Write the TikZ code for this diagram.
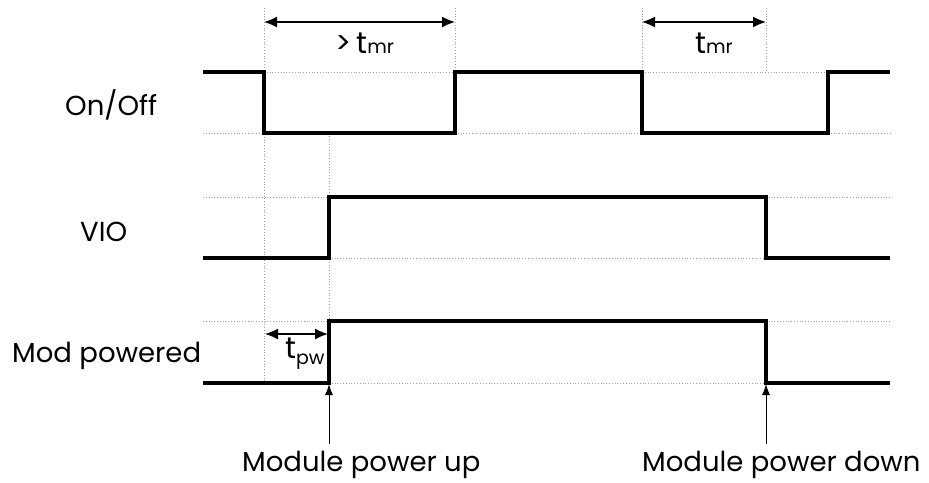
\documentclass[tikz,border=0pt]{standalone}
\usepackage{fontspec}
\setmainfont{Poppins}
\usetikzlibrary{arrows.meta}
\begin{document}
\begin{tikzpicture}[x=1pt,y=-1pt,
  sig/.style={line width=4pt,line join=miter,line cap=butt},
  guide/.style={draw=gray!75,line width=0.8pt,dotted},
  dim/.style={line width=1.4pt,{Latex[length=13pt,width=11pt]}-{Latex[length=13pt,width=11pt]}},
  upar/.style={line width=1pt,-{Latex[length=11pt,width=8pt]}},
  lab/.style={anchor=base west,inner sep=0pt,font=\fontsize{27.5}{30}\selectfont},
  tlab/.style={anchor=base west,inner sep=0pt,font=\fontsize{30}{32}\selectfont}]
\useasboundingbox[fill=white] (0,0) rectangle (929,482);

% guide lines (horizontal)
\draw[guide] (264,72) -- (455,72);
\draw[guide] (642,72) -- (828,72);
\draw[guide] (203,133) -- (264,133);
\draw[guide] (455,133) -- (642,133);
\draw[guide] (828,133) -- (890,133);
\draw[guide] (203,197) -- (329,197);
\draw[guide] (766,197) -- (890,197);
\draw[guide] (329,258) -- (766,258);
\draw[guide] (203,321) -- (329,321);
\draw[guide] (766,321) -- (890,321);
\draw[guide] (329,383) -- (766,383);
% guide lines (vertical)
\draw[guide] (264,8) -- (264,383);
\draw[guide] (455,8) -- (455,72);
\draw[guide] (642,8) -- (642,72);
\draw[guide] (766,8) -- (766,72);
\draw[guide] (329,133) -- (329,383);

% signals
\draw[sig] (203,72) -- (264,72) -- (264,133) -- (455,133) -- (455,72) -- (642,72) -- (642,133) -- (828,133) -- (828,72) -- (890,72);
\draw[sig] (203,258) -- (329,258) -- (329,197) -- (766,197) -- (766,258) -- (890,258);
\draw[sig] (203,383) -- (329,383) -- (329,321) -- (766,321) -- (766,383) -- (890,383);

% dimension arrows
\coordinate (a1) at (264,22); \coordinate (a2) at (455,22);
\coordinate (b1) at (642,22); \coordinate (b2) at (766,22);
\coordinate (c1) at (265,334); \coordinate (c2) at (328,334);
\draw[dim] (a1) -- (a2);
\draw[dim] (b1) -- (b2);
\draw[dim] (c1) -- (c2);

% event arrows
\coordinate (u1) at (329,444); \coordinate (u1t) at (329,384);
\coordinate (u2) at (766,444); \coordinate (u2t) at (766,384);
\draw[upar] (u1) -- (u1t);
\draw[upar] (u2) -- (u2t);

% labels
\node[lab] (onoff) at (65,115) {On/Off};
\node[lab] (vio) at (80,241) {VIO};
\node[lab] (modp) at (12,362) {Mod powered};
\node[lab] (mpu) at (242,471) {Module power up};
\node[lab] (mpd) at (642,471) {Module power down};
\node[tlab] (tmr1) at (335,53) {>\,t{\fontsize{19}{20}\selectfont mr}};
\node[tlab] (tmr2) at (695,53) {t{\fontsize{19}{20}\selectfont mr}};
\node[tlab] (tpw) at (285,358) {t\raisebox{-6pt}{\fontsize{19}{20}\selectfont pw}};
\end{tikzpicture}
\end{document}
